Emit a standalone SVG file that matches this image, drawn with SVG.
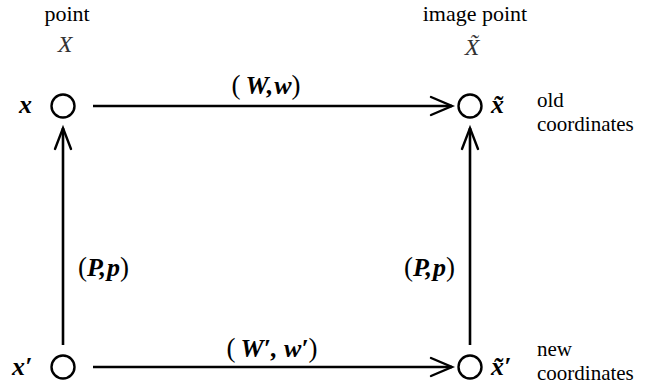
<svg xmlns="http://www.w3.org/2000/svg" width="667" height="388" viewBox="0 0 667 388">
<style>
.t{font-family:"Liberation Serif","DejaVu Serif",serif;font-size:22px;fill:#000}
.c{font-family:"Liberation Serif","DejaVu Serif",serif;font-size:21px;fill:#000}
.m{font-family:"Liberation Serif","DejaVu Serif",serif;font-size:26px;font-style:italic;font-weight:bold;fill:#000}
.i{font-family:"Liberation Serif","DejaVu Serif",serif;font-size:24px;font-style:italic;fill:#333}
.p{font-family:"Liberation Serif","DejaVu Serif",serif;font-size:27px;font-style:normal;font-weight:normal;fill:#000}
.n{fill:#fff;stroke:#000;stroke-width:2.4}
.e{stroke:#000;stroke-width:2.6;fill:none}
.h{stroke:#000;stroke-width:2.4;fill:none;stroke-linecap:round;stroke-linejoin:miter}
</style>
<g id="labels-top">
<text class="t" x="67" y="21" text-anchor="middle">point</text>
<text class="i" x="65" y="52" text-anchor="middle">X</text>
<text class="t" x="475" y="21" text-anchor="middle">image point</text>
<text class="i" x="472" y="55" text-anchor="middle">X̃</text>
</g>
<g id="node-x">
<circle class="n" cx="63" cy="106" r="11.5"/>
<text class="m" x="19" y="113">x</text>
</g>
<g id="node-xt">
<circle class="n" cx="470" cy="106" r="11.5"/>
<text class="m" x="491" y="113">x̃</text>
<text class="c" x="537" y="107">old</text>
<text class="c" x="537" y="130.5">coordinates</text>
</g>
<g id="node-xp">
<circle class="n" cx="63" cy="367" r="11.5"/>
<text class="m" x="12" y="375">x′</text>
</g>
<g id="node-xtp">
<circle class="n" cx="470" cy="367" r="11.5"/>
<text class="m" x="491" y="375">x̃′</text>
<text class="c" x="537" y="356">new</text>
<text class="c" x="537" y="379.5">coordinates</text>
</g>
<g id="connectors">
<line class="e" x1="93" y1="106" x2="452" y2="106"/>
<path class="h" d="M431 97 L452 106 L431 115"/>
<line class="e" x1="93" y1="367" x2="452" y2="367"/>
<path class="h" d="M431 358 L452 367 L431 376"/>
<line class="e" x1="63" y1="345" x2="63" y2="128"/>
<path class="h" d="M55 149 L63 128 L71 149"/>
<line class="e" x1="470" y1="345" x2="470" y2="128"/>
<path class="h" d="M462 149 L470 128 L478 149"/>
</g>
<g id="edge-labels">
<text x="266" y="94" text-anchor="middle"><tspan class="p">(</tspan><tspan class="m" dx="5">W</tspan><tspan class="m">,</tspan><tspan class="m" dx="1">w</tspan><tspan class="p">)</tspan></text>
<text x="78" y="276"><tspan class="p">(</tspan><tspan class="m">P</tspan><tspan class="m">,</tspan><tspan class="m" dx="1">p</tspan><tspan class="p">)</tspan></text>
<text x="455" y="276" text-anchor="end"><tspan class="p">(</tspan><tspan class="m">P</tspan><tspan class="m">,</tspan><tspan class="m" dx="1">p</tspan><tspan class="p">)</tspan></text>
<text x="272" y="357" text-anchor="middle"><tspan class="p">(</tspan><tspan class="m" dx="5">W</tspan><tspan class="m">′, </tspan><tspan class="m">w</tspan><tspan class="m">′</tspan><tspan class="p">)</tspan></text>
</g>
</svg>
